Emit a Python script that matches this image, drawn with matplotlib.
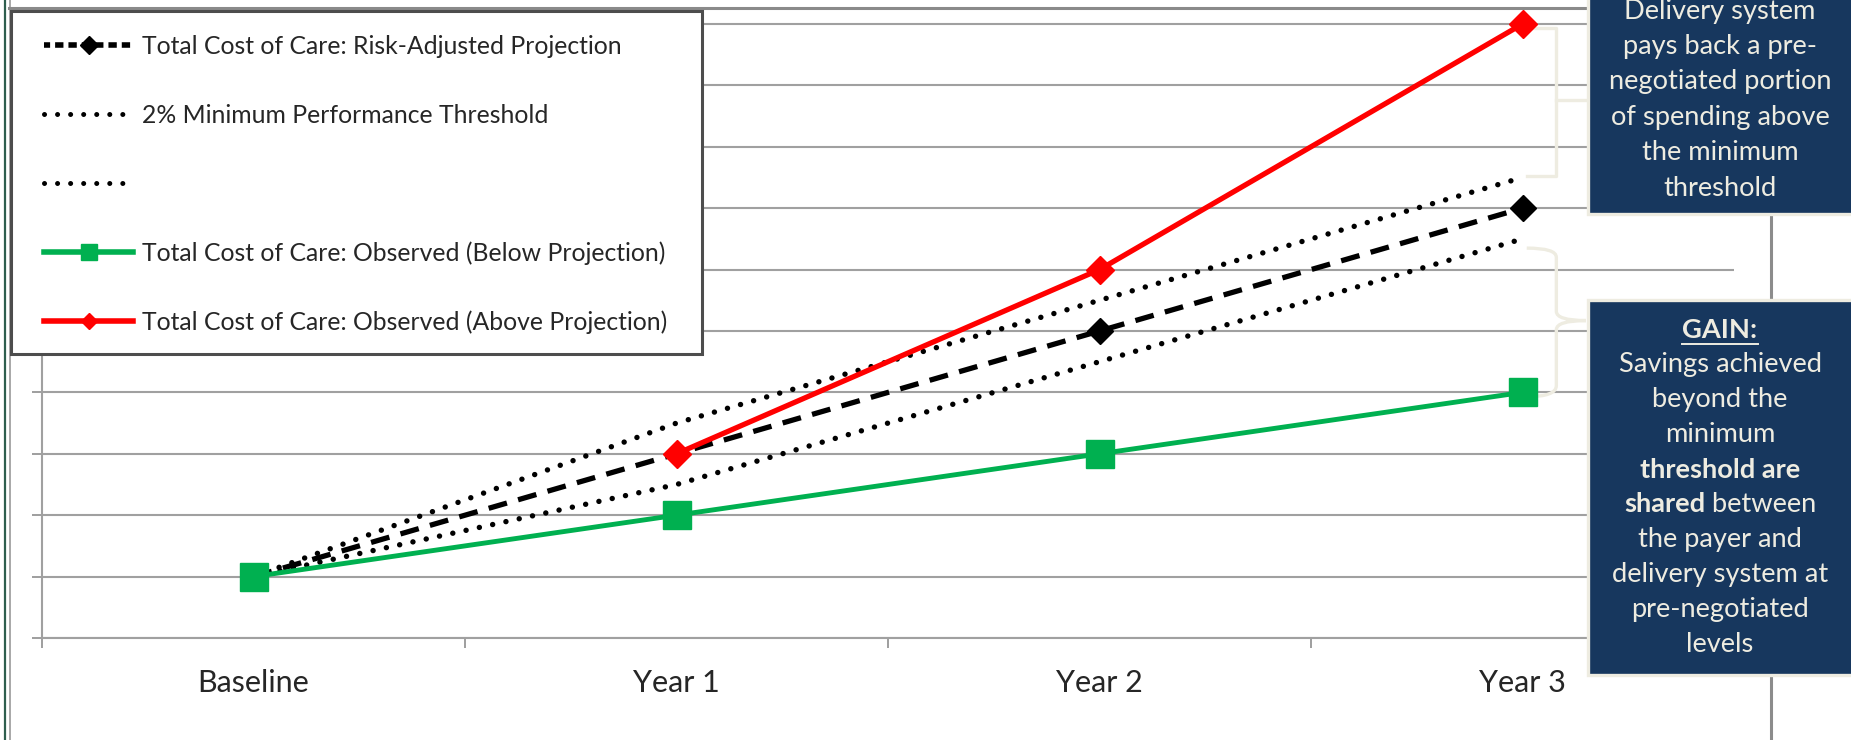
import numpy as np
import matplotlib.pyplot as plt
from matplotlib.lines import Line2D
from matplotlib.patches import Rectangle, PathPatch
from matplotlib.path import Path

plt.rcParams['font.family'] = ['Lato', 'DejaVu Sans']

# ---------------- data ----------------
categories = ["Baseline", "Year 1", "Year 2", "Year 3"]
projection = [1, 3, 5, 7]
threshold_upper = [1, 3.5, 5.5, 7.5]
threshold_lower = [1, 2.5, 4.5, 6.5]
observed_below = [1, 2, 3, 4]
observed_above = [np.nan, 3, 6, 10]

legend_labels = ["Total Cost of Care: Risk-Adjusted Projection",
                 "2% Minimum Performance Threshold",
                 " ",
                 "Total Cost of Care: Observed (Below Projection)",
                 "Total Cost of Care: Observed (Above Projection)"]

loss_lines = ["Delivery system", "pays back a pre-", "negotiated portion",
              "of spending above", "the minimum", "threshold"]
gain_lines = ["GAIN:", "Savings achieved", "beyond the", "minimum",
              "threshold are", "shared between", "the payer and",
              "delivery system at", "pre-negotiated", "levels"]

# ---------------- layout helpers (pixels, origin top-left) ----------------
W, H = 1851, 740
def fx(x):
    return x / W
def fy(y):
    return 1 - y / H

NAVY = '#17375E'
CREAM = '#EEECE1'
GRID = '#A0A0A0'
DOTS = (0, (0.01, 2.5))

fig = plt.figure(figsize=(W / 100, H / 100), dpi=100)

unit = 61.4
ax = fig.add_axes([fx(42), fy(638), (1734 - 42) / W, 10.1 * unit / H])
x = np.arange(len(categories))

ax.plot(x, threshold_upper, color='black', lw=3.9, linestyle=DOTS,
        dash_capstyle='round', zorder=3)
ax.plot(x, threshold_lower, color='black', lw=3.9, linestyle=DOTS,
        dash_capstyle='round', zorder=3)
ax.plot(x, projection, color='black', lw=3.8, linestyle=(0, (3.6, 2.2)),
        marker='D', ms=13.5, zorder=4)
ax.plot(x, observed_below, color='#00B050', lw=3.5, marker='s', ms=20, zorder=5)
ax.plot(x, observed_above, color='#FF0000', lw=3.8, marker='D', ms=14, zorder=6,
        clip_on=False)

ax.set_xlim(-0.5, 3.5)
ax.set_ylim(0, 10.1)
ax.set_xticks(x)
ax.set_xticklabels(categories, fontsize=22, color='#262626')
ax.tick_params(axis='x', which='major', length=0, pad=22)
ax.set_xticks(np.arange(-0.5, 4, 1), minor=True)
ax.tick_params(axis='x', which='minor', length=7.2, width=1.44, color=GRID)
ax.set_yticks(np.arange(0, 11))
ax.set_yticklabels([])
ax.tick_params(axis='y', length=7.2, width=1.44, color=GRID)
ax.yaxis.grid(True, color=GRID, lw=1.5)
ax.set_axisbelow(True)
for s in ['top', 'right']:
    ax.spines[s].set_visible(False)
for s in ['left', 'bottom']:
    ax.spines[s].set_color(GRID)
    ax.spines[s].set_linewidth(1.5)

# brackets next to Year 3
bx0, bx1, bx2 = 3.01, 3.08, 3.15
ax.plot([bx0, bx1, bx1, bx0], [observed_above[-1] - 0.07, observed_above[-1] - 0.07,
        threshold_upper[-1] + 0.02, threshold_upper[-1] + 0.02],
        color=CREAM, lw=2.4, clip_on=False, zorder=2)
mid = (observed_above[-1] + threshold_upper[-1]) / 2 + 0.02
ax.plot([bx1, bx2], [mid, mid], color=CREAM, lw=2.4, clip_on=False, zorder=2)

top, bot = threshold_lower[-1] - 0.15, observed_below[-1] - 0.07
tip = (top + bot) / 2 + 0.03
verts = [(bx0, top), (bx1, top), (bx1, top - 0.15), (bx1, tip + 0.15),
         (bx1, tip), (bx2, tip),
         (bx2, tip), (bx1, tip), (bx1, tip - 0.15), (bx1, bot + 0.18),
         (bx1, bot), (bx0, bot)]
codes = [Path.MOVETO, Path.CURVE3, Path.CURVE3, Path.LINETO, Path.CURVE3, Path.CURVE3,
         Path.MOVETO, Path.CURVE3, Path.CURVE3, Path.LINETO, Path.CURVE3, Path.CURVE3]
ax.add_patch(PathPatch(Path(verts, codes), fill=False, edgecolor=CREAM, lw=2.4,
                       clip_on=False, zorder=2))

# legend
handles = [Line2D([], [], color='black', lw=4, linestyle=(0.4, (1.5, 0.9)), marker='D', ms=9),
           Line2D([], [], color='black', lw=3.6, linestyle=(0, (0.01, 2.6)), dash_capstyle='round'),
           Line2D([], [], color='black', lw=3.6, linestyle=(0, (0.01, 2.6)), dash_capstyle='round'),
           Line2D([], [], color='#00B050', lw=4, marker='s', ms=12),
           Line2D([], [], color='#FF0000', lw=4, marker='D', ms=8)]
fig.add_artist(Rectangle((fx(10.5), fy(354)), (702 - 10.5) / W, (354 - 10.5) / H,
                         transform=fig.transFigure, facecolor='white',
                         edgecolor='#4D4D4D', lw=2.2, zorder=4))
fig.legend(handles, legend_labels, loc='upper left', bbox_to_anchor=(fx(44), fy(35)),
           bbox_transform=fig.transFigure, frameon=False, fontsize=17.8,
           handlelength=3.6, handletextpad=0.36, labelspacing=1.85,
           borderpad=0, borderaxespad=0, labelcolor='#262626').set_zorder(5)

# chart frame lines
fig.add_artist(Line2D([fx(5), fx(5)], [0, 1], color='#2E5E4E', lw=1.6))
fig.add_artist(Line2D([fx(9.5), fx(9.5)], [0, 1], color='#A8A8A8', lw=1.4))
fig.add_artist(Line2D([fx(9), fx(1587)], [fy(7.5), fy(7.5)], color='#8A8A8A', lw=2.2))
fig.add_artist(Line2D([fx(1771), fx(1771)], [0, 1], color='#8C8C8C', lw=2.2))

# annotation boxes
fig.add_artist(Rectangle((fx(1588), fy(214)), (1870 - 1588) / W, 230 / H,
                         transform=fig.transFigure, facecolor=NAVY, edgecolor=CREAM,
                         lw=2.4, zorder=6))
fig.add_artist(Rectangle((fx(1588), fy(675)), (1870 - 1588) / W, (675 - 300) / H,
                         transform=fig.transFigure, facecolor=NAVY, edgecolor=CREAM,
                         lw=2.4, zorder=6))

cx = 1720
fs = 19.6
for i, line in enumerate(loss_lines):
    fig.text(fx(cx), fy(11 + 35.4 * i), line, ha='center', va='center',
             color=CREAM, fontsize=fs, zorder=7)

renderer = fig.canvas.get_renderer()
for i, line in enumerate(gain_lines):
    yy = fy(330 + 34.9 * i)
    if line == "GAIN:":
        t = fig.text(fx(cx), yy, line, ha='center', va='center', color=CREAM,
                     fontsize=fs, weight='bold', zorder=7)
        w = t.get_window_extent(renderer).width
        fig.add_artist(Line2D([fx(cx - w / 2), fx(cx + w / 2)], [fy(344), fy(344)],
                              color=CREAM, lw=1.4, zorder=7))
    elif line == "threshold are":
        fig.text(fx(cx), yy, line, ha='center', va='center', color=CREAM,
                 fontsize=fs, weight='bold', zorder=7)
    elif line == "shared between":
        t1 = fig.text(0, yy, "shared", ha='left', va='center', color=CREAM,
                      fontsize=fs, weight='bold', zorder=7)
        t2 = fig.text(0, yy, " between", ha='left', va='center', color=CREAM,
                      fontsize=fs, zorder=7)
        w1 = t1.get_window_extent(renderer).width
        w2 = t2.get_window_extent(renderer).width
        x0 = cx - (w1 + w2) / 2
        t1.set_x(fx(x0))
        t2.set_x(fx(x0 + w1))
    else:
        fig.text(fx(cx), yy, line, ha='center', va='center', color=CREAM,
                 fontsize=fs, zorder=7)

fig.savefig('out.png', dpi=100)
